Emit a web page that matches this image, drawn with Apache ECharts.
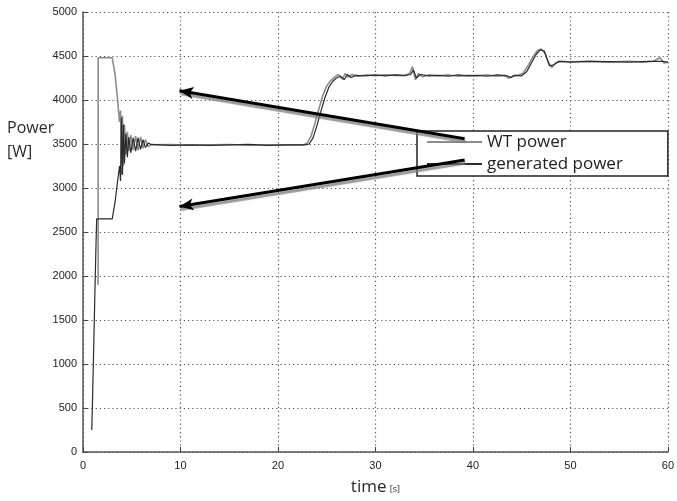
<!DOCTYPE html>
<html>
<head>
<meta charset="utf-8">
<script src="https://cdn.jsdelivr.net/npm/echarts@6/dist/echarts.min.js"></script>
<style>
html,body{margin:0;padding:0;background:#fff;}
#chart{width:677px;height:501px;}
</style>
</head>
<body>
<div id="chart"></div>
<script>
// ---- data ----
const xTicks = [0, 10, 20, 30, 40, 50, 60];
const yTicks = [0, 500, 1000, 1500, 2000, 2500, 3000, 3500, 4000, 4500, 5000];

const wtTime  = [1.55,1.56,3.0,3.3,3.55,3.75,3.85,3.95,4.05,4.15,4.25,4.4,4.55,4.7,4.9,5.15,5.4,5.65,5.9,6.15,6.4,6.7,7.0,9,11,13,15,17,19,21,22.6,23.0,23.4,23.8,24.2,24.6,25.0,25.4,25.8,26.2,26.6,26.9,27.2,27.6,28.2,29,30,31,32,33,33.5,33.8,34.1,34.4,34.8,35.5,36.5,37.5,38.5,39.5,40.5,41.5,42.5,43.3,43.7,44.1,44.6,45.1,45.6,46.1,46.6,47.0,47.4,47.8,48.1,48.5,49,50,52,54,56,57.5,58.5,59.2,59.6,60];
const wtPower = [1900,4480,4480,4280,4000,3750,3880,3150,3820,3250,3720,3380,3640,3420,3600,3430,3590,3430,3580,3450,3550,3470,3490,3495,3485,3490,3495,3485,3490,3490,3490,3510,3590,3740,3900,4050,4160,4220,4260,4290,4240,4300,4260,4290,4270,4285,4275,4285,4280,4275,4300,4380,4230,4300,4265,4285,4275,4285,4270,4280,4275,4285,4270,4280,4245,4275,4280,4300,4380,4480,4560,4580,4530,4400,4370,4420,4440,4435,4440,4430,4440,4430,4440,4480,4420,4430];

const genTime  = [0.9,1.0,1.1,1.2,1.3,1.4,3.0,3.3,3.55,3.75,3.85,3.95,4.05,4.15,4.25,4.4,4.55,4.7,4.9,5.15,5.4,5.65,5.9,6.15,6.4,6.7,7.0,9,11,13,15,17,19,21,22.8,23.2,23.6,24.0,24.4,24.8,25.2,25.6,26.0,26.4,26.8,27.1,27.5,28.0,29,30,31,32,33,33.6,33.9,34.2,34.6,35.5,36.5,37.5,38.5,39.5,40.5,41.5,42.5,43.5,43.9,44.3,45.0,45.5,46.0,46.5,46.9,47.3,47.6,47.9,48.3,48.8,50,52,54,56,58,59.4,60];
const genPower = [250,700,1200,1700,2200,2650,2650,2850,3080,3250,3080,3800,3150,3720,3280,3620,3350,3580,3400,3570,3420,3570,3440,3550,3460,3510,3495,3485,3490,3485,3490,3495,3485,3490,3490,3500,3570,3710,3870,4020,4140,4210,4250,4270,4230,4290,4255,4280,4275,4285,4275,4285,4280,4290,4340,4250,4290,4275,4280,4270,4285,4275,4280,4270,4285,4275,4255,4280,4275,4320,4420,4520,4570,4560,4470,4390,4400,4440,4430,4440,4435,4430,4440,4440,4430];

// annotation arrows (data coordinates): [tail, tip]
const arrowWT  = [[39.15, 3559], [9.9, 4106]];
const arrowGen = [[39.15, 3319], [9.9, 2789]];

const seriesNames = ['WT power', 'generated power'];

function zip(a, b) { return a.map((v, i) => [v, b[i]]); }

const chart = echarts.init(document.getElementById('chart'), null, {renderer: 'canvas'});
const axisFont = {fontFamily: 'Liberation Sans', fontSize: 11, color: '#222'};
const arrowStyle = {color: '#000', width: 3, type: 'solid',
  shadowColor: 'rgba(120,120,120,0.75)', shadowOffsetX: 1, shadowOffsetY: 3, shadowBlur: 1};

chart.setOption({
  animation: false,
  backgroundColor: '#fff',
  title: {
    text: 'Power\n[W]', left: 2, top: 111,
    textStyle: {fontFamily: 'Open Sans', fontSize: 16, fontWeight: 'normal', color: '#2a2a2a', lineHeight: 24}
  },
  grid: {left: 83, right: 6, top: 12, bottom: 39, containLabel: false},
  legend: {
    data: seriesNames,
    orient: 'vertical',
    left: 417, top: 131,
    padding: [2, 45, 3, 10],
    icon: 'rect',
    itemWidth: 55, itemHeight: 2, itemGap: 4,
    borderColor: '#222', borderWidth: 1.5,
    backgroundColor: '#fff',
    textStyle: {fontFamily: 'Open Sans', fontSize: 17, color: '#222', lineHeight: 18}
  },
  xAxis: {
    type: 'value', min: 0, max: 60, interval: 10,
    name: '{a|time} {b|[s]}', nameLocation: 'middle', nameGap: 27,
    nameTextStyle: {rich: {
      a: {fontFamily: 'Open Sans', fontSize: 17, color: '#2a2a2a'},
      b: {fontFamily: 'Open Sans', fontSize: 9, color: '#2a2a2a', padding: [4, 0, 0, 0]}
    }},
    axisLine: {show: true, onZero: false, lineStyle: {color: '#555', width: 1.5}},
    axisTick: {show: true, inside: true, length: 5, lineStyle: {color: '#444'}},
    axisLabel: Object.assign({margin: 8, formatter: v => xTicks.includes(v) ? String(v) : ''}, axisFont),
    splitLine: {show: true, lineStyle: {color: '#555', type: [1.2, 3], width: 1.2}}
  },
  yAxis: {
    type: 'value', min: 0, max: 5000, interval: 500,
    axisLine: {show: true, onZero: false, lineStyle: {color: '#555', width: 1.5}},
    axisTick: {show: true, inside: true, length: 5, lineStyle: {color: '#444'}},
    axisLabel: Object.assign({margin: 6, formatter: v => yTicks.includes(v) ? String(v) : ''}, axisFont),
    splitLine: {show: true, lineStyle: {color: '#555', type: [1.2, 3], width: 1.2}}
  },
  series: [
    {
      name: seriesNames[0], type: 'line', symbol: 'none', z: 3,
      lineStyle: {color: '#8c8c8c', width: 1.6},
      itemStyle: {color: '#8c8c8c'},
      data: zip(wtTime, wtPower)
    },
    {
      name: seriesNames[1], type: 'line', symbol: 'none', z: 4,
      lineStyle: {color: '#2b2b2b', width: 1.2},
      itemStyle: {color: '#2b2b2b'},
      data: zip(genTime, genPower),
      markLine: {
        silent: true, animation: false, z: 10,
        symbol: ['none', 'arrow'], symbolSize: [9, 14],
        label: {show: false},
        lineStyle: arrowStyle,
        emphasis: {disabled: true},
        data: [
          [{coord: arrowWT[0]}, {coord: arrowWT[1]}],
          [{coord: arrowGen[0]}, {coord: arrowGen[1]}]
        ]
      }
    }
  ]
});
</script>
</body>
</html>
